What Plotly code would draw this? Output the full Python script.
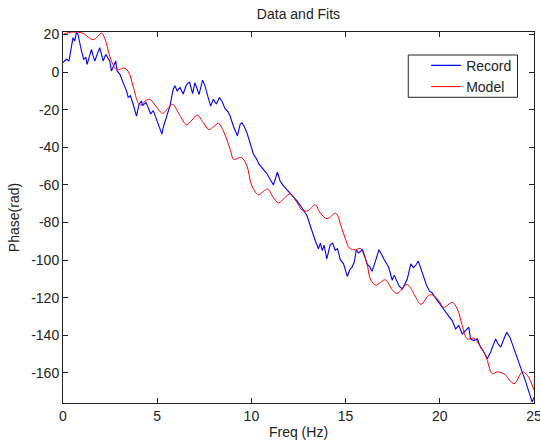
import plotly.graph_objects as go

# Record (blue, measured data)
record_freq = [0.00, 0.18, 0.32, 0.45, 0.53, 0.62, 0.71, 0.80, 0.89, 0.98, 1.10, 1.21, 1.28, 1.42, 1.51,
               1.60, 1.69, 1.81, 1.95, 2.04, 2.13, 2.27, 2.39, 2.48, 2.57, 2.70, 2.80, 2.87, 3.02, 3.19,
               3.37, 3.46, 3.58, 3.72, 3.90, 4.04, 4.17, 4.22, 4.40, 4.52, 4.65, 4.79, 4.97, 5.14, 5.25,
               5.32, 5.50, 5.68, 5.85, 5.94, 6.06, 6.21, 6.38, 6.53, 6.62, 6.72, 6.88, 7.00, 7.13, 7.22,
               7.41, 7.54, 7.71, 7.84, 7.98, 8.14, 8.30, 8.45, 8.60, 8.75, 8.87, 9.04, 9.26, 9.40, 9.50,
               9.62, 9.76, 9.93, 10.02, 10.11, 10.28, 10.40, 10.55, 10.70, 10.82, 10.99, 11.17, 11.38,
               11.52, 11.70, 11.88, 12.06, 12.20, 12.41, 12.60, 12.80, 12.95, 13.12, 13.25, 13.40, 13.56,
               13.66, 13.76, 13.86, 14.00, 14.18, 14.31, 14.45, 14.57, 14.72, 14.89, 15.09, 15.21, 15.34,
               15.46, 15.57, 15.68, 15.80, 15.90, 16.02, 16.14, 16.28, 16.40, 16.58, 16.77, 16.94, 17.06,
               17.29, 17.47, 17.58, 17.70, 17.85, 18.02, 18.20, 18.27, 18.46, 18.60, 18.74, 18.86, 19.06,
               19.28, 19.45, 19.60, 19.68, 19.86, 20.00, 20.13, 20.39, 20.55, 20.66, 20.84, 21.01, 21.19,
               21.37, 21.54, 21.63, 21.81, 21.99, 22.16, 22.34, 22.52, 22.70, 22.87, 22.96, 23.09, 23.23,
               23.37, 23.55, 23.72, 23.94, 24.15, 24.33, 24.56, 24.73, 24.90, 25.00]
record_phase = [5.0, 6.8, 5.9, 13.0, 18.3, 16.5, 21.0, 20.0, 14.7, 11.2, 6.8, 7.7, 4.1, 9.4, 12.1,
                8.6, 5.9, 9.4, 13.0, 9.4, 5.9, 9.4, 7.7, 5.9, 0.6, 3.3, 5.9, 0.6, -1.2, -5.6,
                -10.0, -13.5, -12.6, -17.0, -23.4, -17.0, -15.5, -17.9, -16.1, -18.8, -22.3, -20.5, -25.0, -29.4, -33.0,
                -29.4, -23.2, -17.9, -9.1, -7.3, -10.0, -8.2, -11.7, -7.3, -6.0, -5.5, -11.5, -5.7, -9.3, -12.0,
                -4.3, -7.5, -13.7, -18.1, -14.5, -17.0, -13.5, -15.8, -19.5, -21.0, -23.4, -28.7, -34.0, -27.8, -27.0,
                -29.0, -32.2, -37.5, -40.1, -43.7, -46.3, -49.0, -50.7, -52.5, -54.0, -57.0, -60.0, -53.3,
                -57.8, -60.5, -62.5, -64.0, -66.0, -68.4, -71.0, -74.0, -76.3, -81.6, -86.0, -90.0, -94.0,
                -91.0, -95.0, -92.0, -99.4, -92.0, -91.0, -94.8, -93.9, -99.8, -102.0, -108.7, -105.4, -103.8,
                -101.0, -94.5, -96.2, -95.0, -94.5, -98.0, -102.2, -103.5, -106.0, -100.7, -94.5, -97.5, -100.0,
                -103.8, -110.7, -108.0, -111.0, -114.0, -115.3, -112.0, -110.2, -102.0, -104.0, -102.5, -100.5, -106.4,
                -113.0, -116.5, -117.5, -118.9, -121.6, -123.0, -125.1, -128.7, -130.5, -132.2, -136.6, -134.8, -139.3,
                -137.5, -135.7, -141.9, -142.8, -141.9, -146.3, -148.9, -152.5, -148.9, -144.5, -141.9, -144.5, -146.3,
                -142.8, -138.4, -141.0, -147.2, -152.5, -158.6, -164.8, -170.1, -175.5, -173.0]

# Model (red, fitted curve)
model_freq = [0.00, 0.30, 0.70, 1.10, 1.35, 1.60, 1.85, 2.05, 2.25, 2.48, 2.70, 2.84, 3.05, 3.23, 3.46,
              3.72, 3.99, 4.15, 4.35, 4.61, 4.95, 5.29, 5.55, 5.82, 6.20, 6.56, 6.85, 7.12, 7.45, 7.74,
              8.00, 8.25, 8.51, 8.87, 9.06, 9.28, 9.49, 9.76, 10.02, 10.37, 10.63, 10.86, 11.15, 11.45,
              11.75, 12.06, 12.41, 12.70, 13.00, 13.39, 13.65, 14.03, 14.47, 14.80, 15.00, 15.20, 15.52,
              15.78, 15.96, 16.14, 16.32, 16.60, 17.11, 17.47, 17.73, 18.27, 18.71, 19.00, 19.45, 19.68,
              19.95, 20.21, 20.66, 20.93, 21.19, 21.46, 21.81, 22.07, 22.43, 22.79, 23.05, 23.40, 23.94,
              24.38, 24.65, 25.00]
model_phase = [20.0, 21.0, 21.3, 20.5, 18.5, 17.2, 19.0, 20.7, 17.0, 8.4, 3.0, 1.3, 1.5, 2.2, 0.4,
               -7.5, -16.3, -17.5, -15.5, -14.5, -18.5, -22.0, -19.5, -17.2, -23.0, -28.0, -25.5, -22.9, -27.0, -30.6,
               -29.0, -27.3, -31.3, -41.0, -46.5, -45.8, -45.6, -49.8, -60.4, -65.3, -63.5, -62.2, -66.5, -69.6,
               -67.0, -64.8, -69.2, -73.5, -73.8, -70.6, -74.9, -78.0, -75.1, -83.3, -89.0, -93.6, -94.5,
               -93.8, -96.9, -102.0, -110.2, -113.3, -110.5, -115.7, -117.7, -113.0, -119.6, -123.5, -118.5, -119.0,
               -121.6, -125.1, -122.5, -126.0, -134.8, -141.9, -141.5, -144.6, -150.7, -160.4, -159.5, -160.4, -165.7,
               -159.5, -161.3, -169.2]

x_ticks = [0, 5, 10, 15, 20, 25]
y_ticks = [20, 0, -20, -40, -60, -80, -100, -120, -140, -160]
y_tick_text = ["20", "0", "-20", "-40", "-60", "-80", "-100", "-120", "-140", "-160"]

FONT = "Liberation Sans, Arial, sans-serif"
INK = "#222222"

fig = go.Figure()
fig.add_trace(go.Scatter(x=record_freq, y=record_phase, mode="lines", name="Record",
                         line=dict(color="#0000ff", width=1.1)))
fig.add_trace(go.Scatter(x=model_freq, y=model_phase, mode="lines", name="Model",
                         line=dict(color="#ff0000", width=1, shape="spline", smoothing=1.0)))

axis_common = dict(showgrid=False, zeroline=False, showline=True, linecolor=INK, linewidth=1,
                   mirror="ticks", ticks="inside", ticklen=5, tickcolor=INK, automargin=False,
                   ticklabeloverflow="allow",
                   tickfont=dict(family=FONT, size=14, color=INK))

# legend frame (paper coordinates)
fig.add_shape(type="rect", xref="paper", yref="paper", x0=0.733, x1=0.965, y0=0.824, y1=0.938,
              line=dict(color=INK, width=1), fillcolor="white", layer="above")

fig.update_layout(
    width=540, height=444,
    paper_bgcolor="white", plot_bgcolor="white",
    margin=dict(l=63, r=6, t=32, b=41),
    font=dict(family=FONT, size=14, color=INK),
    title=dict(text="Data and Fits", x=0.5, xref="paper", xanchor="center",
               y=(444 - 14) / 444, yref="container", yanchor="middle",
               font=dict(family=FONT, size=14, color=INK)),
    xaxis=dict(range=[0, 25], tickvals=x_ticks,
               title=dict(text="Freq (Hz)", standoff=4, font=dict(family=FONT, size=14)),
               **axis_common),
    yaxis=dict(range=[-176, 21.3], tickvals=y_ticks, ticktext=y_tick_text,
               title=dict(text="Phase(rad)", standoff=8, font=dict(family=FONT, size=14)),
               **axis_common),
    legend=dict(x=0.771, y=0.952, xanchor="left", yanchor="top",
                borderwidth=0, bgcolor="rgba(0,0,0,0)",
                font=dict(family=FONT, size=14, color=INK),
                tracegroupgap=0),
    showlegend=True,
)

fig.write_html("out.html", config={"displayModeBar": False},
               post_script="document.body.style.margin='0';")
